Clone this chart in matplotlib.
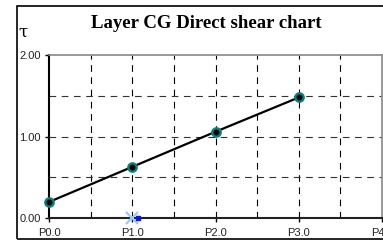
import matplotlib
matplotlib.use("Agg")
import matplotlib.pyplot as plt
from matplotlib.patches import Rectangle

# data
sigma = [0.0, 1.0, 2.0, 3.0]
tau = [0.20, 0.63, 1.06, 1.48]
cross_x = [1.0]
cross_y = [0.0]
dot_x = [1.07]
dot_y = [0.0]
x_ticks = [0, 1, 2, 3, 4]
x_labels = ["P0.0", "P1.0", "P2.0", "P3.0", "P4.0"]
y_ticks = [0, 1, 2]
y_labels = ["0.00", "1.00", "2.00"]
grid_x = [0.5, 1.0, 1.5, 2.0, 2.5, 3.0, 3.5]
grid_y = [0.5, 1.0, 1.5]

fig = plt.figure(figsize=(3.83, 2.44), dpi=100)
ax = fig.add_axes([49 / 383, 1 - 218.3 / 244, 333 / 383, 163.3 / 244])

# outer frame
fig.patches.append(Rectangle((16.5 / 383, 1 - 239 / 244), 1.0, 233 / 244,
                             transform=fig.transFigure, fill=False,
                             edgecolor="black", linewidth=1.2, clip_on=False))

for gx in grid_x:
    ax.axvline(gx, color="black", lw=0.8, ls=(0, (6, 5)), zorder=1)
for gy in grid_y:
    ax.axhline(gy, color="#333333", lw=0.8, ls=(0, (6, 5)), zorder=1)

ax.plot(sigma, tau, color="black", lw=1.6, zorder=3)
ax.plot(sigma, tau, ls="none", marker="o", ms=6, mfc="black",
        mec="#0a7f80", mew=1.7, zorder=4, clip_on=False)
ax.plot(cross_x, cross_y, ls="none", marker="x", ms=8, mew=1.6,
        color="#9cc8f5", zorder=5, clip_on=False)
ax.plot(dot_x, dot_y, ls="none", marker="s", ms=3, color="#1010ee",
        zorder=6, clip_on=False)

ax.set_xlim(0, 4)
ax.set_ylim(0, 2)
ax.set_xticks(x_ticks)
ax.set_xticklabels(x_labels)
ax.set_yticks(y_ticks)
ax.set_yticklabels(y_labels)
ax.tick_params(axis="both", direction="out", length=3, width=1,
               labelsize=8, colors="black")
ax.tick_params(axis="x", pad=4)
ax.tick_params(axis="y", pad=3)
for lab in ax.get_xticklabels() + ax.get_yticklabels():
    lab.set_family("Liberation Sans")
    lab.set_color("#222222")

ax.spines["left"].set_linewidth(1.5)
ax.spines["bottom"].set_linewidth(1.5)
ax.spines["bottom"].set_color("#222222")
ax.spines["top"].set_color("#888888")
ax.spines["right"].set_color("#888888")
ax.spines["top"].set_linewidth(1.2)
ax.spines["right"].set_linewidth(1.2)

fig.text(206 / 383, 1 - 24 / 244, "Layer CG Direct shear chart",
         ha="center", va="center", family="Liberation Serif",
         fontweight="bold", fontsize=13.5)
fig.text(18 / 383, 1 - 32 / 244, "τ", ha="left", va="center",
         family="DejaVu Serif", fontsize=12)

fig.savefig("out.png", dpi=100)
